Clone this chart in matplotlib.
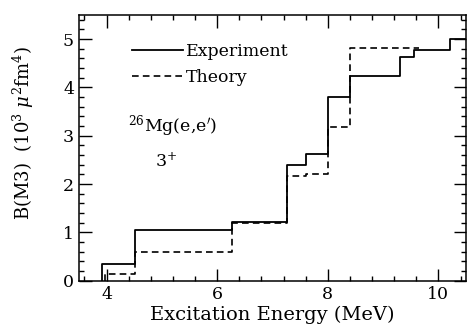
import matplotlib
matplotlib.use("Agg")
import matplotlib.pyplot as plt
import numpy as np
from matplotlib.ticker import MultipleLocator

# Data
exp_edges = [3.92, 4.51, 6.27, 7.27, 7.60, 8.00, 8.40, 9.30, 9.56, 10.21, 10.5]
exp_values = [0.34, 1.05, 1.22, 2.40, 2.63, 3.81, 4.23, 4.62, 4.78, 5.00]
th_edges = [3.98, 4.51, 6.27, 7.27, 7.60, 8.00, 8.40, 9.64]
th_values = [0.14, 0.60, 1.19, 2.16, 2.21, 3.19, 4.82]

x_ticks = [4, 6, 8, 10]
y_ticks = [0, 1, 2, 3, 4, 5]

plt.rcParams['font.family'] = ['DejaVu Serif']
plt.rcParams['mathtext.fontset'] = 'dejavuserif'

fig = plt.figure(figsize=(4.67, 3.31), dpi=100)
ax = fig.add_axes([0.169, 0.152, 0.829, 0.803])

ex = np.concatenate([[exp_edges[0]], exp_edges])
ey = np.concatenate([[0], exp_values, [exp_values[-1]]])
ax.step(ex, ey, where='post', color='black', lw=1.3, label='Experiment')

tx = np.concatenate([[th_edges[0]], th_edges])
ty = np.concatenate([[0], th_values, [th_values[-1]]])
ax.step(tx, ty, where='post', color='black', lw=1.2, linestyle=(0, (4, 2.5)), label='Theory')

ax.set_xlim(3.5, 10.5)
ax.set_ylim(0, 5.5)
ax.set_xticks(x_ticks)
ax.set_yticks(y_ticks)
ax.xaxis.set_minor_locator(MultipleLocator(0.4))
ax.yaxis.set_minor_locator(MultipleLocator(0.2))
ax.tick_params(which='both', direction='in', top=True, right=True, width=1, labelsize=12.5)
ax.tick_params(which='major', length=9)
ax.tick_params(which='minor', length=3.5)
for s in ax.spines.values():
    s.set_linewidth(1.1)

ax.set_xlabel('Excitation Energy (MeV)', fontsize=14, labelpad=2)
ax.set_ylabel(r'B(M3)  (10$^3$ $\mu^2$fm$^4$)', fontsize=13)
ax.yaxis.set_label_coords(-0.11, 0.555)

leg = ax.legend(loc='upper left', bbox_to_anchor=(0.12, 0.92), frameon=False,
                fontsize=12.5, handlelength=2.9, handletextpad=0.2, labelspacing=0.5,
                borderaxespad=0)

ax.text(4.38, 3.19, r"$^{26}$Mg(e,e$'$)", fontsize=12.5, va='center', ha='left')
ax.text(4.87, 2.46, r"3$^{+}$", fontsize=12.5, va='center', ha='left')

fig.savefig('out.png', dpi=100)
